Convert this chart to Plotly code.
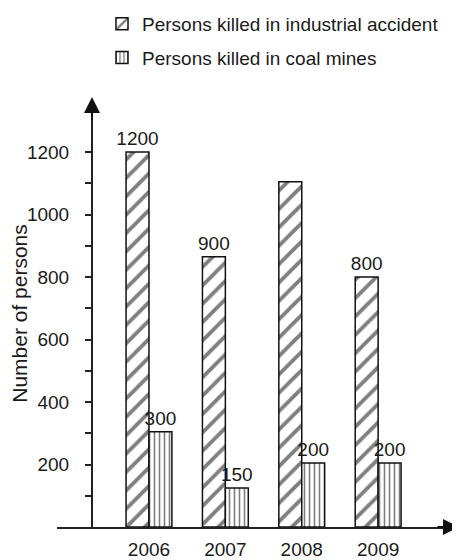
import plotly.graph_objects as go

# ---- data ----
years = ["2006", "2007", "2008", "2009"]
industrial = [1200, 865, 1105, 800]          # bar heights as drawn
coal = [305, 125, 205, 205]
industrial_labels = ["1200", "900", "", "800"]
coal_labels = ["300", "150", "200", "200"]
series_names = ["Persons killed in industrial accident", "Persons killed in coal mines"]
y_tick_vals = [100, 200, 300, 400, 500, 600, 700, 800, 900, 1000, 1100, 1200]
y_tick_text = ["", "200", "", "400", "", "600", "", "800", "", "1000", "", "1200"]
y_title = "Number of persons"

FONT = "Liberation Sans, Arial, Helvetica, sans-serif"
TXT = "#1a1a1a"
FS = 19

# the page body has an 8px default margin, so the figure is drawn 8px in from the corner
OFF = 8
W, H = 460 - OFF, 560 - OFF
ML, MR, MT, MB = 57 - OFF, 7, 100 - OFF, 33
PW = W - ML - MR
PH = H - MT - MB
x_range = [-1.204, 3.98]
y_range = [0, PH / 0.3125]
yaxis_pos = (92 - 57) / PW

fig = go.Figure()
fig.add_trace(go.Bar(
    x=years, y=industrial, name=series_names[0], legendgroup="a",
    text=industrial_labels, textposition="outside", constraintext="none",
    cliponaxis=False,
    textfont=dict(family=FONT, size=FS, color=TXT),
    marker=dict(color="white", line=dict(color="#111", width=1.5),
                pattern=dict(shape="/", fgcolor="#000", bgcolor="white", size=13, solidity=0.3)),
))
fig.add_trace(go.Bar(
    x=years, y=coal, name=series_names[1], legendgroup="b",
    text=coal_labels, textposition="outside", constraintext="none",
    cliponaxis=False,
    textfont=dict(family=FONT, size=FS, color=TXT),
    marker=dict(color="white", line=dict(color="#111", width=1.5),
                pattern=dict(shape="|", fgcolor="#000", bgcolor="white", size=5, solidity=0.32)),
))

fig.update_layout(
    width=W, height=H, autosize=False,
    margin=dict(l=ML, r=MR, t=MT, b=MB, pad=0, autoexpand=False),
    paper_bgcolor="white", plot_bgcolor="white",
    font=dict(family=FONT, size=FS, color=TXT),
    barmode="group", bargap=0.4, bargroupgap=0,
    showlegend=True,
    legend=dict(x=45 / PW, y=1 + (MT + 3) / PH, xanchor="left", yanchor="top",
                traceorder="grouped", tracegroupgap=6,
                font=dict(family=FONT, size=FS, color=TXT),
                bgcolor="rgba(0,0,0,0)"),
    xaxis=dict(type="category", range=x_range, showline=True, linecolor="#222", linewidth=2,
               ticks="", showgrid=False, zeroline=False, ticklabelstandoff=4,
               tickfont=dict(family=FONT, size=FS, color=TXT), fixedrange=True),
    yaxis=dict(range=y_range, anchor="free", position=yaxis_pos, showline=True,
               linecolor="#222", linewidth=2, showgrid=False, zeroline=False,
               tickvals=y_tick_vals, ticktext=y_tick_text, ticks="outside", ticklen=6,
               tickwidth=1.5, tickcolor="#222", ticklabelstandoff=12,
               tickfont=dict(family=FONT, size=FS, color=TXT),
               title=dict(text=y_title, font=dict(family=FONT, size=21, color=TXT), standoff=2),
               automargin=False),
    yaxis2=dict(range=y_range, overlaying="y", anchor="free", position=yaxis_pos,
                showline=False, showgrid=False, zeroline=False,
                tickvals=y_tick_vals, ticks="inside", ticklen=6, tickwidth=1.5,
                tickcolor="#222", showticklabels=False),
)

# axis arrows
fig.add_annotation(xref="paper", yref="paper", x=yaxis_pos, y=1 + 3 / PH, ax=0, ay=24,
                   axref="pixel", ayref="pixel", text="", showarrow=True,
                   arrowhead=2, arrowsize=1.6, arrowwidth=2, arrowcolor="#111")
fig.add_annotation(xref="paper", yref="paper", x=1 + 7 / PW, y=0, ax=-24, ay=0,
                   axref="pixel", ayref="pixel", text="", showarrow=True,
                   arrowhead=2, arrowsize=1.6, arrowwidth=2, arrowcolor="#111")

fig.write_html("out.html")
